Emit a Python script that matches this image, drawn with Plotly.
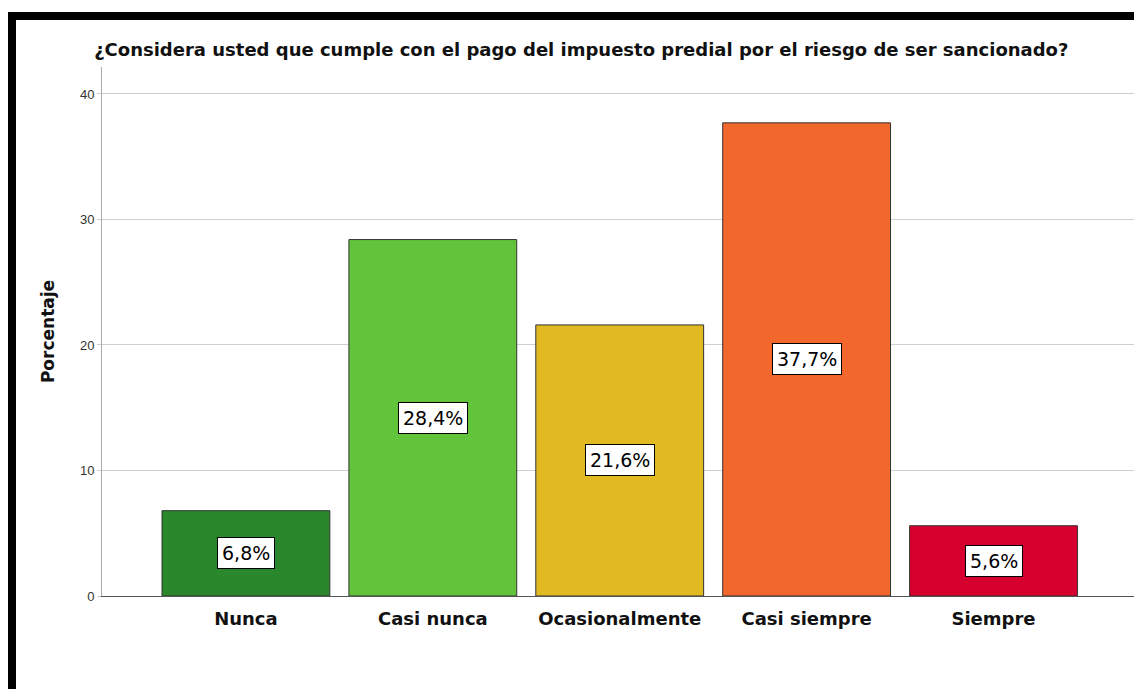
import plotly.graph_objects as go

categories = ["Nunca", "Casi nunca", "Ocasionalmente", "Casi siempre", "Siempre"]
values = [6.8, 28.4, 21.6, 37.7, 5.6]
labels = ["6,8%", "28,4%", "21,6%", "37,7%", "5,6%"]
colors = ["#2a872b", "#62c43a", "#e1b920", "#f2682c", "#d6002f"]

# page has an 8px body margin; figure coordinates below are page coords minus 8
W, H = 1142, 689
L, R, T, B = 94, 12, 59, 101
pw, ph = W - L - R, H - T - B

def px_x(x):
    return (x - L) / pw

def px_y(y):
    return (H - B - y) / ph

fig = go.Figure()
fig.add_trace(go.Bar(
    x=list(range(len(categories))), y=values,
    marker=dict(color=colors, line=dict(color="#333333", width=1)),
    width=0.898, hoverinfo="skip"
))

for i, (v, lab) in enumerate(zip(values, labels)):
    fig.add_annotation(
        x=i, y=v / 2, text=lab, showarrow=False,
        font=dict(family="DejaVu Sans", size=19, color="black"),
        bgcolor="white", bordercolor="black", borderwidth=1, borderpad=4,
    )

fig.update_layout(
    width=W, height=H,
    margin=dict(l=L, r=R, t=T, b=B),
    paper_bgcolor="white", plot_bgcolor="white",
    showlegend=False,
    title=dict(
        text="<b>¿Considera usted que cumple con el pago del impuesto predial por el riesgo de ser sancionado?</b>",
        x=0.502, xanchor="center", y=1 - 42 / H, yanchor="middle",
        font=dict(family="DejaVu Sans", size=18, color="#111111"),
    ),
    font=dict(family="DejaVu Sans"),
    xaxis=dict(
        range=[-0.77, 4.773],
        tickmode="array", tickvals=list(range(len(categories))),
        ticktext=["<b>%s</b>" % c for c in categories],
        tickfont=dict(family="DejaVu Sans", size=18, color="#111111"),
        ticklabelstandoff=6,
        showgrid=False, zeroline=False,
        showline=True, linecolor="#555555", linewidth=1,
        ticks="", ticklen=0,
    ),
    yaxis=dict(
        range=[0, 42.15], tickvals=[0, 10, 20, 30, 40],
        tickfont=dict(family="Liberation Sans", size=13, color="#333333"),
        showgrid=True, gridcolor="#cfcfcf", gridwidth=1,
        zeroline=False, showline=True, linecolor="#aaaaaa", linewidth=1,
        ticks="outside", ticklen=4, tickcolor="#cfcfcf",
        title=dict(text="<b>Porcentaje</b>", font=dict(family="DejaVu Sans", size=17, color="#111111"), standoff=20),
    ),
    shapes=[
        dict(type="rect", xref="paper", yref="paper",
             x0=px_x(0), x1=px_x(1142), y0=px_y(12), y1=px_y(4),
             fillcolor="black", line=dict(width=0), layer="above"),
        dict(type="rect", xref="paper", yref="paper",
             x0=px_x(0), x1=px_x(8), y0=px_y(689), y1=px_y(4),
             fillcolor="black", line=dict(width=0), layer="above"),
    ],
)

fig.write_html("out.html")
